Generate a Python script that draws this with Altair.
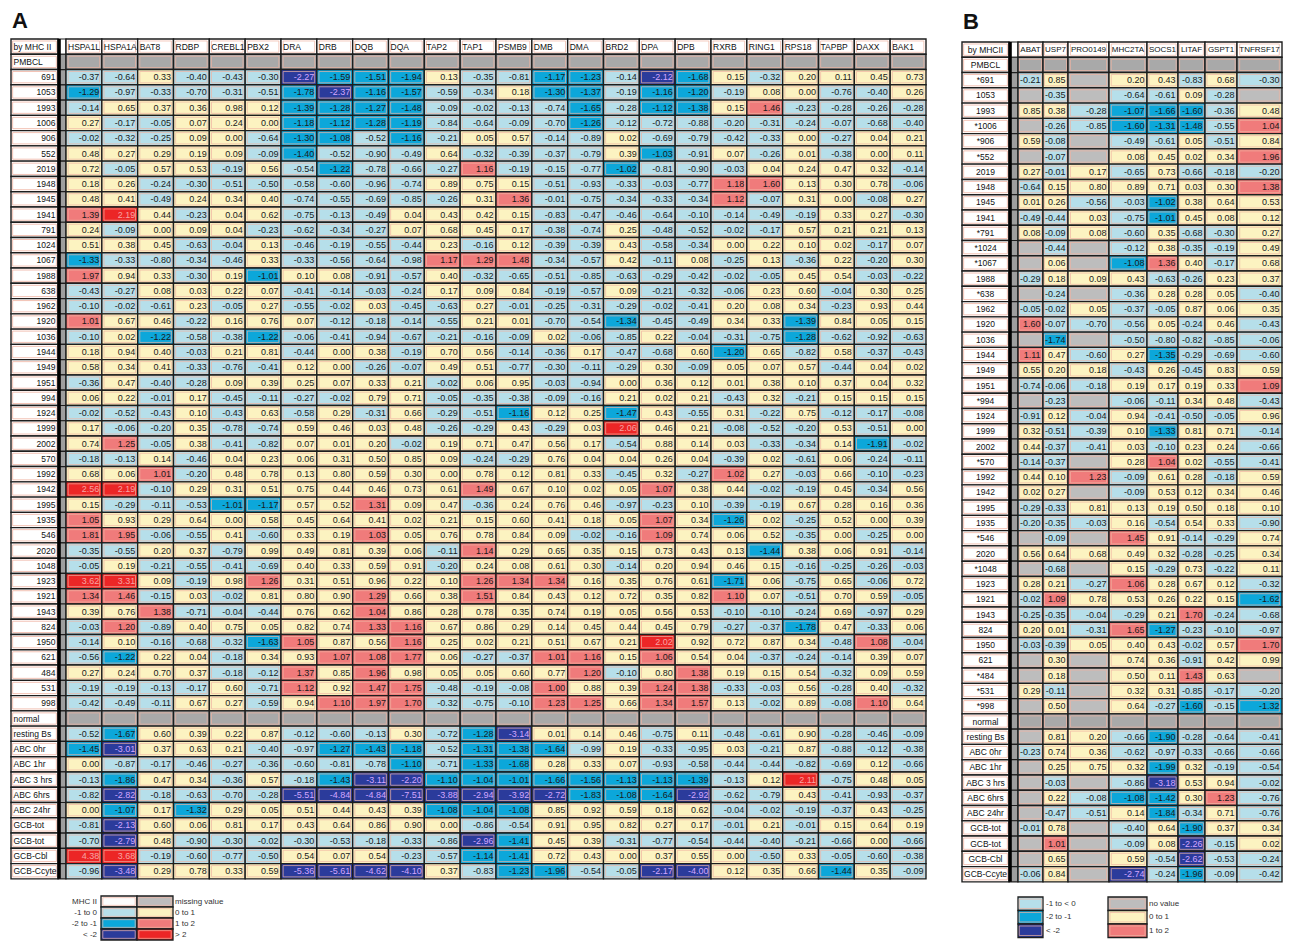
import altair as alt
import pandas as pd

FONT = "Liberation Sans, Arial, sans-serif"
N = None

# ---------------- Panel A ----------------
cols_a = ["HSPA1L", "HSPA1A", "BAT8", "RDBP", "CREBL1", "PBX2", "DRA", "DRB", "DQB", "DQA",
          "TAP2", "TAP1", "PSMB9", "DMB", "DMA", "BRD2", "DPA", "DPB", "RXRB", "RING1",
          "RPS18", "TAPBP", "DAXX", "BAK1"]

a691 = [-0.37, -0.64, 0.33, -0.40, -0.43, -0.30, -2.27, -1.59, -1.51, -1.94, 0.13, -0.35, -0.81, -1.17, -1.23, -0.14, -2.12, -1.68, 0.15, -0.32, 0.20, 0.11, 0.45, 0.73]
a1053 = [-1.29, -0.97, -0.33, -0.70, -0.31, -0.51, -1.78, -2.37, -1.16, -1.57, -0.59, -0.34, 0.18, -1.30, -1.37, -0.19, -1.16, -1.20, -0.19, 0.08, 0.00, -0.76, -0.40, 0.26]
a1993 = [-0.14, 0.65, 0.37, 0.36, 0.98, 0.12, -1.39, -1.28, -1.27, -1.48, -0.09, -0.02, -0.13, -0.74, -1.65, -0.28, -1.12, -1.38, 0.15, 1.46, -0.23, -0.28, -0.26, -0.28]
a1006 = [0.27, -0.17, -0.05, 0.07, 0.24, 0.00, -1.18, -1.12, -1.28, -1.19, -0.84, -0.64, -0.09, -0.70, -1.26, -0.12, -0.72, -0.88, -0.20, -0.31, -0.24, -0.07, -0.68, -0.40]
a906 = [-0.02, -0.32, -0.25, 0.09, 0.00, -0.64, -1.30, -1.08, -0.52, -1.16, -0.21, 0.05, 0.57, -0.14, -0.89, 0.02, -0.69, -0.79, -0.42, -0.33, 0.00, -0.27, 0.04, 0.21]
a552 = [0.48, 0.27, 0.29, 0.19, 0.09, -0.09, -1.40, -0.52, -0.90, -0.49, 0.64, -0.32, -0.39, -0.37, -0.79, 0.39, -1.03, -0.91, 0.07, -0.26, 0.01, -0.38, 0.00, 0.11]
a2019 = [0.72, -0.05, 0.57, 0.53, -0.19, 0.56, -0.54, -1.22, -0.78, -0.66, -0.27, 1.16, -0.19, -0.15, -0.77, -1.02, -0.81, -0.90, -0.03, 0.04, 0.24, 0.47, 0.32, -0.14]
a1948 = [0.18, 0.26, -0.24, -0.30, -0.51, -0.50, -0.58, -0.60, -0.96, -0.74, 0.89, 0.75, 0.15, -0.51, -0.93, -0.33, -0.03, -0.77, 1.18, 1.60, 0.13, 0.30, 0.78, -0.06]
a1945 = [0.48, 0.41, -0.49, 0.24, 0.34, 0.40, -0.74, -0.55, -0.69, -0.85, -0.26, 0.31, 1.36, -0.01, -0.75, -0.34, -0.33, -0.34, 1.12, -0.07, 0.31, 0.00, -0.08, 0.27]
a1941 = [1.39, 2.19, 0.44, -0.23, 0.04, 0.62, -0.75, -0.13, -0.49, 0.04, 0.43, 0.42, 0.15, -0.83, -0.47, -0.46, -0.64, -0.10, -0.14, -0.49, -0.19, 0.33, 0.27, -0.30]
a791 = [0.24, -0.09, 0.00, 0.09, 0.04, -0.23, -0.62, -0.34, -0.27, 0.07, 0.68, 0.45, 0.17, -0.38, -0.74, 0.25, -0.48, -0.52, -0.02, -0.17, 0.57, 0.21, 0.21, 0.13]
a1024 = [0.51, 0.38, 0.45, -0.63, -0.04, 0.13, -0.46, -0.19, -0.55, -0.44, 0.23, -0.16, 0.12, -0.39, -0.39, 0.43, -0.58, -0.34, 0.00, 0.22, 0.10, 0.02, -0.17, 0.07]
a1067 = [-1.33, -0.33, -0.80, -0.34, -0.46, 0.33, -0.33, -0.56, -0.64, -0.98, 1.17, 1.29, 1.48, -0.34, -0.57, 0.42, -0.11, 0.08, -0.25, 0.13, -0.36, 0.22, -0.20, 0.30]
a1988 = [1.97, 0.94, 0.33, -0.30, 0.19, -1.01, 0.10, 0.08, -0.91, -0.57, 0.40, -0.32, -0.65, -0.51, -0.85, -0.63, -0.29, -0.42, -0.02, -0.05, 0.45, 0.54, -0.03, -0.22]
a638 = [-0.43, -0.27, 0.08, 0.03, 0.22, 0.07, -0.41, -0.14, -0.03, -0.24, 0.17, 0.09, 0.84, -0.19, -0.57, 0.09, -0.21, -0.32, -0.06, 0.23, 0.60, -0.04, 0.30, 0.25]
a1962 = [-0.10, -0.02, -0.61, 0.23, -0.05, 0.27, -0.55, -0.02, 0.03, -0.45, -0.63, 0.27, -0.01, -0.25, -0.31, -0.29, -0.02, -0.41, 0.20, 0.08, 0.34, -0.23, 0.93, 0.44]
a1920 = [1.01, 0.67, 0.46, -0.22, 0.16, 0.76, 0.07, -0.12, -0.18, -0.14, -0.55, 0.21, 0.01, -0.70, -0.54, -1.34, -0.45, -0.49, 0.34, 0.33, -1.39, 0.84, 0.05, 0.15]
a1036 = [-0.10, 0.02, -1.22, -0.58, -0.38, -1.22, -0.06, -0.41, -0.94, -0.67, -0.21, -0.16, -0.09, 0.02, -0.06, -0.85, 0.22, -0.04, -0.31, -0.75, -1.28, -0.62, -0.92, -0.63]
a1944 = [0.18, 0.94, 0.40, -0.03, 0.21, 0.81, -0.44, 0.00, 0.38, -0.19, 0.70, 0.56, -0.14, -0.36, 0.17, -0.47, -0.68, 0.60, -1.20, 0.65, -0.82, 0.58, -0.37, -0.43]
a1949 = [0.58, 0.34, 0.41, -0.33, -0.76, -0.41, 0.12, 0.00, -0.26, -0.07, 0.49, 0.51, -0.77, -0.30, -0.11, -0.29, 0.30, -0.09, 0.05, 0.07, 0.57, -0.44, 0.04, 0.02]
a1951 = [-0.36, 0.47, -0.40, -0.28, 0.09, 0.39, 0.25, 0.07, 0.33, 0.21, -0.02, 0.06, 0.95, -0.03, -0.94, 0.00, 0.36, 0.12, 0.01, 0.38, 0.10, 0.37, 0.04, 0.32]
a994 = [0.06, 0.22, -0.01, 0.17, -0.45, -0.11, -0.27, -0.02, 0.79, 0.71, -0.05, -0.35, -0.38, -0.09, -0.16, 0.21, 0.02, 0.21, -0.43, 0.32, -0.21, 0.15, 0.15, 0.15]
a1924 = [-0.02, -0.52, -0.43, 0.10, -0.43, 0.63, -0.58, 0.29, -0.31, 0.66, -0.29, -0.51, -1.16, 0.12, 0.25, -1.47, 0.43, -0.55, 0.31, -0.22, 0.75, -0.12, -0.17, -0.08]
a1999 = [0.17, -0.06, -0.20, 0.35, -0.78, -0.74, 0.59, 0.46, 0.03, 0.48, -0.26, -0.29, 0.43, -0.29, 0.03, 2.06, 0.46, 0.21, -0.08, -0.52, -0.20, 0.53, -0.51, 0.00]
a2002 = [0.74, 1.25, -0.05, 0.38, -0.41, -0.82, 0.07, 0.01, 0.20, -0.02, 0.19, 0.71, 0.47, 0.56, 0.17, -0.54, 0.88, 0.14, 0.03, -0.33, -0.34, 0.14, -1.91, -0.02]
a570 = [-0.18, -0.13, 0.14, -0.46, 0.04, 0.23, 0.06, 0.31, 0.50, 0.85, 0.09, -0.24, -0.29, 0.76, 0.04, 0.04, 0.26, 0.04, -0.39, 0.02, -0.61, 0.06, -0.24, -0.11]
a1992 = [0.68, 0.06, 1.01, -0.20, 0.48, 0.78, 0.13, 0.80, 0.59, 0.30, 0.00, 0.78, 0.12, 0.81, 0.33, -0.45, 0.32, -0.27, 1.02, 0.27, -0.03, 0.66, -0.10, -0.23]
a1942 = [2.56, 2.19, -0.10, 0.29, 0.31, 0.51, 0.75, 0.44, 0.46, 0.73, 0.61, 1.49, 0.67, 0.10, 0.02, 0.05, 1.07, 0.38, 0.44, -0.02, -0.19, 0.45, -0.34, 0.56]
a1995 = [0.15, -0.29, -0.11, -0.53, -1.01, -1.17, 0.57, 0.52, 1.31, 0.09, 0.47, -0.36, 0.24, 0.76, 0.46, -0.97, -0.23, 0.10, -0.39, -0.19, 0.67, 0.28, 0.16, 0.36]
a1935 = [1.05, 0.93, 0.29, 0.64, 0.00, 0.58, 0.45, 0.64, 0.41, 0.02, 0.21, 0.15, 0.60, 0.41, 0.18, 0.05, 1.07, 0.34, -1.26, 0.02, -0.25, 0.52, 0.00, 0.39]
a546 = [1.81, 1.95, -0.06, -0.55, 0.41, -0.60, 0.33, 0.19, 1.03, 0.05, 0.76, 0.78, 0.84, 0.09, -0.02, -0.16, 1.09, 0.74, 0.06, 0.52, -0.35, 0.00, -0.25, 0.00]
a2020 = [-0.35, -0.55, 0.20, 0.37, -0.79, 0.99, 0.49, 0.81, 0.39, 0.06, -0.11, 1.14, 0.29, 0.65, 0.35, 0.15, 0.73, 0.43, 0.13, -1.44, 0.38, 0.06, 0.91, -0.14]
a1048 = [-0.05, 0.19, -0.21, -0.55, -0.41, -0.69, 0.40, 0.33, 0.59, 0.91, -0.20, 0.24, 0.08, 0.61, 0.30, -0.14, 0.20, 0.94, 0.46, 0.15, -0.16, -0.25, -0.26, -0.03]
a1923 = [3.62, 3.31, 0.09, -0.19, 0.98, 1.26, 0.31, 0.51, 0.96, 0.22, 0.10, 1.26, 1.34, 1.34, 0.16, 0.35, 0.76, 0.61, -1.71, 0.06, -0.75, 0.65, -0.06, 0.72]
a1921 = [1.34, 1.46, -0.15, 0.03, -0.02, 0.81, 0.80, 0.90, 1.29, 0.66, 0.38, 1.51, 0.84, 0.43, 0.12, 0.72, 0.35, 0.82, 1.10, 0.07, -0.51, 0.70, 0.59, -0.05]
a1943 = [0.39, 0.76, 1.38, -0.71, -0.04, -0.44, 0.76, 0.62, 1.04, 0.86, 0.28, 0.78, 0.35, 0.74, 0.19, 0.05, 0.56, 0.53, -0.10, -0.10, -0.24, 0.69, -0.97, 0.29]
a824 = [-0.03, 1.20, -0.89, 0.40, 0.75, 0.05, 0.82, 0.74, 1.33, 1.16, 0.67, 0.86, 0.29, 0.14, 0.45, 0.44, 0.45, 0.79, -0.27, -0.37, -1.78, 0.47, -0.33, 0.06]
a1950 = [-0.14, 0.10, -0.16, -0.68, -0.32, -1.63, 1.05, 0.87, 0.56, 1.16, 0.25, 0.02, 0.21, 0.51, 0.67, 0.21, 2.02, 0.92, 0.72, 0.87, 0.34, -0.48, 1.08, -0.04]
a621 = [-0.56, -1.22, 0.22, 0.04, -0.18, 0.34, 0.93, 1.07, 1.08, 1.77, 0.06, -0.27, -0.37, 1.01, 1.16, 0.15, 1.06, 0.54, 0.04, -0.37, -0.24, -0.14, 0.39, 0.07]
a484 = [0.27, 0.24, 0.70, 0.37, -0.18, -0.12, 1.37, 0.85, 1.96, 0.98, 0.05, 0.05, 0.60, 0.77, 1.20, -0.10, 0.80, 1.38, 0.19, 0.15, 0.54, -0.32, 0.09, 0.59]
a531 = [-0.19, -0.19, -0.13, -0.17, 0.60, -0.71, 1.12, 0.92, 1.47, 1.75, -0.48, -0.19, -0.08, 1.00, 0.88, 0.39, 1.24, 1.38, -0.33, -0.03, 0.56, -0.28, 0.40, -0.32]
a998 = [-0.42, -0.49, -0.11, 0.67, 0.27, -0.59, 0.94, 1.10, 1.97, 1.70, -0.32, -0.75, -0.10, 1.23, 1.25, 0.66, 1.34, 1.57, 0.13, -0.02, 0.89, -0.08, 1.10, 0.64]
a_rest = [-0.52, -1.67, 0.60, 0.39, 0.22, 0.87, -0.12, -0.60, -0.13, 0.30, -0.72, -1.28, -3.14, 0.01, 0.14, 0.46, -0.75, 0.11, -0.48, -0.61, 0.90, -0.28, -0.46, -0.09]
a_abc0 = [-1.45, -3.01, 0.37, 0.63, 0.21, -0.40, -0.97, -1.27, -1.43, -1.18, -0.52, -1.31, -1.38, -1.64, -0.99, 0.19, -0.33, -0.95, 0.03, -0.21, 0.87, -0.88, -0.12, -0.38]
a_abc1 = [0.00, -0.87, -0.17, -0.46, -0.27, -0.36, -0.60, -0.81, -0.78, -1.10, -0.71, -1.33, -1.68, 0.28, 0.33, 0.07, -0.93, -0.58, -0.44, -0.44, -0.82, -0.69, 0.12, -0.66]
a_abc3 = [-0.13, -1.86, 0.47, 0.34, -0.36, 0.57, -0.18, -1.43, -3.11, -2.20, -1.10, -1.04, -1.01, -1.66, -1.56, -1.13, -1.13, -1.39, -0.13, 0.12, 2.11, -0.75, 0.48, 0.05]
a_abc6 = [-0.82, -2.82, -0.18, -0.63, -0.70, -0.28, -5.51, -4.84, -4.84, -7.51, -3.88, -2.94, -3.92, -2.72, -1.83, -1.08, -1.64, -2.92, -0.62, -0.79, 0.43, -0.41, -0.93, -0.37]
a_abc24 = [0.00, -1.07, 0.17, -1.32, 0.29, 0.05, 0.51, 0.44, 0.43, 0.39, -1.08, -1.04, -1.08, 0.85, 0.92, 0.59, 0.18, 0.62, -0.04, -0.02, -0.19, -0.37, 0.43, -0.25]
a_gcb1 = [-0.81, -2.13, 0.60, 0.06, 0.81, 0.17, 0.43, 0.64, 0.86, 0.90, 0.00, -0.86, -0.54, 0.91, 0.95, 0.82, 0.27, 0.17, -0.01, 0.21, -0.01, 0.15, 0.64, 0.19]
a_gcb2 = [-0.70, -2.79, 0.48, -0.90, -0.30, -0.02, -0.30, -0.53, -0.18, -0.33, -0.86, -2.96, -1.41, 0.45, 0.39, -0.31, -0.77, -0.54, -0.44, -0.40, -0.21, -0.66, 0.00, -0.66]
a_cbl = [4.38, 3.68, -0.19, -0.60, -0.77, -0.50, 0.54, 0.07, 0.54, -0.23, -0.57, -1.14, -1.41, 0.72, 0.43, 0.00, 0.37, 0.55, 0.00, -0.50, 0.33, -0.05, -0.60, -0.38]
a_ccyte = [-0.96, -3.48, 0.29, 0.78, 0.33, 0.59, -5.36, -5.61, -4.62, -4.10, 0.37, -0.83, -1.23, -1.96, -0.54, -0.05, -2.17, -4.00, 0.12, 0.35, 0.66, -1.44, 0.35, -0.09]

rows_a = [
    ("PMBCL", None),
    ("691", a691), ("1053", a1053), ("1993", a1993), ("1006", a1006), ("906", a906),
    ("552", a552), ("2019", a2019), ("1948", a1948), ("1945", a1945), ("1941", a1941),
    ("791", a791), ("1024", a1024), ("1067", a1067), ("1988", a1988), ("638", a638),
    ("1962", a1962), ("1920", a1920), ("1036", a1036), ("1944", a1944), ("1949", a1949),
    ("1951", a1951), ("994", a994), ("1924", a1924), ("1999", a1999), ("2002", a2002),
    ("570", a570), ("1992", a1992), ("1942", a1942), ("1995", a1995), ("1935", a1935),
    ("546", a546), ("2020", a2020), ("1048", a1048), ("1923", a1923), ("1921", a1921),
    ("1943", a1943), ("824", a824), ("1950", a1950), ("621", a621), ("484", a484),
    ("531", a531), ("998", a998),
    ("normal", None),
    ("resting Bs", a_rest), ("ABC 0hr", a_abc0), ("ABC 1hr", a_abc1), ("ABC 3 hrs", a_abc3),
    ("ABC 6hrs", a_abc6), ("ABC 24hr", a_abc24), ("GCB-tot", a_gcb1), ("GCB-tot", a_gcb2),
    ("GCB-Cbl", a_cbl), ("GCB-Ccyte", a_ccyte),
]

# ---------------- Panel B ----------------
cols_b = ["ABAT", "USP7", "PRO0149", "MHC2TA", "SOCS1", "LITAF", "GSPT1", "TNFRSF17"]

b691 = [-0.21, 0.85, N, 0.20, 0.43, -0.83, 0.68, -0.30]
b1053 = [N, -0.35, N, -0.64, -0.61, 0.09, -0.28, N]
b1993 = [0.85, 0.38, -0.28, -1.07, -1.66, -1.60, -0.36, 0.48]
b1006 = [N, -0.26, -0.85, -1.60, -1.31, -1.48, -0.55, 1.04]
b906 = [0.59, -0.08, N, -0.49, -0.61, 0.05, -0.51, 0.84]
b552 = [N, -0.07, N, 0.08, 0.45, 0.02, 0.34, 1.96]
b2019 = [0.27, -0.01, 0.17, -0.65, 0.73, -0.66, -0.18, -0.20]
b1948 = [-0.64, 0.15, 0.80, 0.89, 0.71, 0.03, 0.30, 1.38]
b1945 = [0.01, 0.26, -0.56, -0.03, -1.02, 0.38, 0.64, 0.53]
b1941 = [-0.49, -0.44, 0.03, -0.75, -1.01, 0.45, 0.08, 0.12]
b791 = [0.08, -0.09, 0.08, -0.60, 0.35, -0.68, -0.30, 0.27]
b1024 = [N, -0.44, N, -0.12, 0.38, -0.35, -0.19, 0.49]
b1067 = [N, 0.06, N, -1.08, 1.36, 0.40, -0.17, 0.68]
b1988 = [-0.29, 0.18, 0.09, 0.43, -0.63, -0.26, 0.23, 0.37]
b638 = [N, -0.24, N, -0.36, 0.28, 0.28, 0.05, -0.40]
b1962 = [-0.05, -0.02, 0.05, -0.37, -0.05, 0.87, 0.06, 0.35]
b1920 = [1.60, -0.07, -0.70, -0.56, 0.05, -0.24, 0.46, -0.43]
b1036 = [N, -1.74, N, -0.50, -0.80, -0.82, -0.85, -0.06]
b1944 = [1.11, 0.47, -0.60, 0.27, -1.35, -0.29, -0.69, -0.60]
b1949 = [0.55, 0.20, 0.18, -0.43, 0.26, -0.45, 0.83, 0.59]
b1951 = [-0.74, -0.06, -0.18, 0.19, 0.17, 0.19, 0.33, 1.09]
b994 = [N, -0.23, N, -0.06, -0.11, 0.34, 0.48, -0.43]
b1924 = [-0.91, 0.12, -0.04, 0.94, -0.41, -0.50, -0.05, 0.96]
b1999 = [0.32, -0.51, -0.39, 0.10, -1.33, 0.81, 0.71, -0.14]
b2002 = [0.44, -0.37, -0.41, 0.03, -0.10, 0.23, 0.24, -0.66]
b570 = [-0.14, -0.37, N, 0.28, 1.04, 0.02, -0.55, -0.41]
b1992 = [0.44, 0.10, 1.23, -0.09, 0.61, 0.28, -0.18, 0.59]
b1942 = [0.02, 0.27, N, -0.09, 0.53, 0.12, 0.34, 0.46]
b1995 = [-0.29, -0.33, 0.81, 0.13, 0.19, 0.50, 0.18, 0.10]
b1935 = [-0.20, -0.35, -0.03, 0.16, -0.54, 0.54, 0.33, -0.90]
b546 = [N, -0.09, N, 1.45, 0.91, -0.14, -0.29, 0.74]
b2020 = [0.56, 0.64, 0.68, 0.49, 0.32, -0.28, -0.25, 0.34]
b1048 = [N, -0.68, N, 0.15, -0.29, 0.73, -0.22, 0.11]
b1923 = [0.28, 0.21, -0.27, 1.06, 0.28, 0.67, 0.12, -0.32]
b1921 = [-0.02, 1.09, 0.78, 0.53, 0.26, 0.22, 0.15, -1.62]
b1943 = [-0.25, -0.35, -0.04, -0.29, 0.21, 1.70, -0.24, -0.68]
b824 = [0.20, 0.01, -0.31, 1.65, -1.27, -0.23, -0.10, -0.97]
b1950 = [-0.03, -0.39, 0.05, 0.40, 0.43, -0.02, 0.57, 1.70]
b621 = [N, 0.30, N, 0.74, 0.36, -0.91, 0.42, 0.99]
b484 = [N, 0.18, N, 0.50, 0.11, 1.43, 0.63, N]
b531 = [0.29, -0.11, N, 0.32, 0.31, -0.85, -0.17, -0.20]
b998 = [N, 0.50, N, 0.64, -0.27, -1.60, -0.15, -1.32]
b_rest = [N, 0.81, 0.20, -0.66, -1.90, -0.28, -0.64, -0.41]
b_abc0 = [-0.23, 0.74, 0.36, -0.62, -0.97, -0.33, -0.66, -0.66]
b_abc1 = [N, 0.25, 0.75, 0.32, -1.99, 0.32, -0.19, -0.54]
b_abc3 = [N, -0.03, N, -0.86, -3.18, 0.53, 0.94, -0.02]
b_abc6 = [N, 0.22, -0.08, -1.08, -1.42, 0.30, 1.23, -0.76]
b_abc24 = [N, -0.47, -0.51, 0.14, -1.84, -0.34, 0.71, -0.76]
b_gcb1 = [-0.01, 0.78, N, -0.40, 0.64, -1.90, 0.37, 0.34]
b_gcb2 = [N, 1.01, N, -0.09, 0.08, -2.26, -0.15, 0.02]
b_cbl = [N, 0.65, N, 0.59, -0.54, -2.62, -0.53, -0.24]
b_ccyte = [-0.06, 0.84, N, -2.74, -0.24, -1.96, -0.09, -0.42]

rows_b = [
    ("PMBCL", None),
    ("*691", b691), ("1053", b1053), ("1993", b1993), ("*1006", b1006), ("*906", b906),
    ("*552", b552), ("2019", b2019), ("1948", b1948), ("1945", b1945), ("1941", b1941),
    ("*791", b791), ("*1024", b1024), ("*1067", b1067), ("1988", b1988), ("*638", b638),
    ("1962", b1962), ("1920", b1920), ("1036", b1036), ("1944", b1944), ("1949", b1949),
    ("1951", b1951), ("*994", b994), ("1924", b1924), ("1999", b1999), ("2002", b2002),
    ("*570", b570), ("1992", b1992), ("1942", b1942), ("1995", b1995), ("1935", b1935),
    ("*546", b546), ("2020", b2020), ("*1048", b1048), ("1923", b1923), ("1921", b1921),
    ("1943", b1943), ("824", b824), ("1950", b1950), ("621", b621), ("*484", b484),
    ("*531", b531), ("*998", b998),
    ("normal", None),
    ("resting Bs", b_rest), ("ABC 0hr", b_abc0), ("ABC 1hr", b_abc1), ("ABC 3 hrs", b_abc3),
    ("ABC 6hrs", b_abc6), ("ABC 24hr", b_abc24), ("GCB-tot", b_gcb1), ("GCB-tot", b_gcb2),
    ("GCB-Cbl", b_cbl), ("GCB-Ccyte", b_ccyte),
]

# legends
leg_a_left_labels = ["MHC II", "-1 to 0", "-2 to -1", "< -2"]
leg_a_left_cats = ["mhc", "m10", "m21", "lt2"]
leg_a_right_labels = ["missing value", "0 to 1", "1 to 2", "> 2"]
leg_a_right_cats = ["missing", "p01", "p12", "gt2"]
leg_b_left_labels = ["-1 to < 0", "-2 to -1", "< -2"]
leg_b_left_cats = ["m10", "m21", "lt2"]
leg_b_right_labels = ["no value", "0 to 1", "1 to 2"]
leg_b_right_cats = ["missing", "p01", "p12"]

panel_letters = ["A", "B"]

# ---------------- styling ----------------
CATS = ["lt2", "m21", "m10", "p01", "p12", "gt2", "missing", "group", "hdr", "mhc", "sep"]
FILLS = ["#2b3b9b", "#0ca7da", "#b6dfea", "#fcf3c1", "#f07b7b", "#ec2626",
         "#bdbdbd", "#a9a9a9", "#ffffff", "#fcfcfc", "#9e9e9e"]
TCOLS = ["#d2a6ff", "#1a1a1a", "#1a1a1a", "#1a1a1a", "#1a1a1a", "#f7a3a3",
         "#1a1a1a", "#1a1a1a", "#1a1a1a", "#1a1a1a", "#1a1a1a"]
ROW_H = 15.27
H = ROW_H * 55

fill_enc = alt.Fill("cat:N", scale=alt.Scale(domain=CATS, range=FILLS), legend=None)
tcol_enc = alt.Color("cat:N", scale=alt.Scale(domain=CATS, range=TCOLS), legend=None)
band0 = alt.Scale(paddingInner=0, paddingOuter=0)


def cat_of(v):
    if v is None:
        return "missing"
    if v < -2:
        return "lt2"
    if v < -1:
        return "m21"
    if v < 0:
        return "m10"
    if v < 1:
        return "p01"
    if v < 2:
        return "p12"
    return "gt2"


def cells(cols, rows):
    recs = [dict(r=0, col=c, cat="hdr", lab=c) for c in cols]
    for i, (name, vals) in enumerate(rows, start=1):
        if vals is not None:
            assert len(vals) == len(cols), name
        for j, c in enumerate(cols):
            if vals is None:
                recs.append(dict(r=i, col=c, cat="group", lab=""))
            else:
                v = vals[j]
                recs.append(dict(r=i, col=c, cat=cat_of(v), lab="" if v is None else f"{v:.2f}"))
    return pd.DataFrame(recs)


def heat(df, cols, width, hdr_align):
    bw = width / len(cols)
    base = alt.Chart(df).encode(
        x=alt.X("col:N", sort=cols, axis=None, scale=band0),
        y=alt.Y("r:O", axis=None, scale=band0),
    )
    rect = base.mark_rect(stroke="#1e1e1e", strokeWidth=1.4).encode(fill=fill_enc)
    inner = base.mark_rect(fillOpacity=0, stroke="#efb3a2", strokeWidth=0.7,
                           width=alt.RelativeBandSize(0.88), height=alt.RelativeBandSize(0.74))
    vals = base.mark_text(align="right", dx=bw / 2 - 2.5, fontSize=9, font=FONT).encode(
        text="lab:N", color=tcol_enc).transform_filter("datum.cat != 'hdr'")
    if hdr_align == "left":
        hdr = base.mark_text(align="left", dx=-bw / 2 + 2, fontSize=8.5, font=FONT, color="#111")
    else:
        hdr = base.mark_text(align="center", fontSize=8, font=FONT, color="#111")
    hdr = hdr.encode(text="lab:N").transform_filter("datum.cat == 'hdr'")
    return alt.layer(rect, inner, vals, hdr).properties(width=width, height=H)


def labels_chart(head, rows, width, mode):
    names = [head] + [n for n, _ in rows]
    df = pd.DataFrame({"r": list(range(len(names))), "lab": names, "c": "x",
                       "isnum": [n.lstrip("*").isdigit() for n in names]})
    base = alt.Chart(df).encode(x=alt.X("c:N", axis=None, scale=band0),
                                y=alt.Y("r:O", axis=None, scale=band0))
    rect = base.mark_rect(fill="#ffffff", stroke="#1e1e1e", strokeWidth=1.4)
    inner = base.mark_rect(fillOpacity=0, stroke="#efb3a2", strokeWidth=0.8,
                           width=alt.RelativeBandSize(0.93), height=alt.RelativeBandSize(0.74))
    layers = [rect, inner]
    if mode == "A":
        layers.append(base.mark_text(align="left", dx=-width / 2 + 2.5, fontSize=8.5, font=FONT,
                                     color="#111").encode(text="lab:N").transform_filter("!datum.isnum"))
        layers.append(base.mark_text(align="right", dx=width / 2 - 2.5, fontSize=8.5, font=FONT,
                                     color="#111").encode(text="lab:N").transform_filter("datum.isnum"))
    else:
        layers.append(base.mark_text(align="center", fontSize=8.5, font=FONT,
                                     color="#111").encode(text="lab:N"))
    return alt.layer(*layers).properties(width=width, height=H)


def sep_chart(width):
    df = pd.DataFrame({"r": list(range(55)), "c": "s",
                       "cat": ["hdr"] + ["sep"] * 54})
    base = alt.Chart(df).encode(x=alt.X("c:N", axis=None, scale=band0),
                                y=alt.Y("r:O", axis=None, scale=band0))
    rect = base.mark_rect(stroke="#1e1e1e", strokeWidth=1.2).encode(fill=fill_enc)
    rule = alt.Chart(pd.DataFrame({"k": [0]})).mark_rule(color="#000000", strokeWidth=3.2).encode(
        x=alt.value(1.2), y=alt.value(0), y2=alt.value(H))
    return alt.layer(rect, rule).properties(width=width, height=H)


def legend_boxes(labels, cats, width, row_h, text_right):
    df = pd.DataFrame({"i": list(range(len(labels))), "cat": cats, "lab": labels, "c": "b"})
    base = alt.Chart(df).encode(x=alt.X("c:N", axis=None, scale=band0),
                                y=alt.Y("i:O", axis=None, scale=band0))
    rect = base.mark_rect(stroke="#1e1e1e", strokeWidth=1.3).encode(fill=fill_enc)
    inner = base.mark_rect(fillOpacity=0, stroke="#efb3a2", strokeWidth=0.7,
                           width=alt.RelativeBandSize(0.9), height=alt.RelativeBandSize(0.7))
    layers = [rect, inner]
    if text_right:
        layers.append(base.mark_text(align="left", dx=width / 2 + 2, fontSize=8, font=FONT,
                                     color="#333").encode(text="lab:N"))
    return alt.layer(*layers).properties(width=width, height=row_h * len(labels))


def legend_text(labels, width, row_h, align, xpos):
    df = pd.DataFrame({"i": list(range(len(labels))), "lab": labels})
    return alt.Chart(df).mark_text(align=align, fontSize=8, font=FONT, color="#333").encode(
        x=alt.value(xpos), y=alt.Y("i:O", axis=None, scale=band0), text="lab:N"
    ).properties(width=width, height=row_h * len(labels))


def spacer(width, height):
    return alt.Chart(pd.DataFrame({"k": [0]})).mark_point(opacity=0, size=1).encode(
        x=alt.value(1), y=alt.value(1)).properties(width=width, height=height)


def letter(t, top_y):
    return alt.Chart(pd.DataFrame({"t": [t]})).mark_text(
        align="left", baseline="top", fontSize=22, fontWeight="bold",
        font="Liberation Sans, Arial", color="#111"
    ).encode(text="t:N", x=alt.value(1), y=alt.value(top_y)).properties(width=40, height=26)


FL = "flush"

# ---------------- assemble ----------------
df_a = cells(cols_a, rows_a)
heat_a = heat(df_a, cols_a, 860, "left")
table_a = alt.hconcat(labels_chart("by MHC II", rows_a, 47, "A"), sep_chart(8), heat_a,
                      spacing=0, bounds=FL)

leg_a = alt.hconcat(
    legend_text(leg_a_left_labels, 90, 11, "right", 86),
    legend_boxes(leg_a_left_labels, leg_a_left_cats, 36, 11, False),
    legend_boxes(leg_a_right_labels, leg_a_right_cats, 36, 11, True),
    spacing=0, bounds=FL,
)

panel_a = alt.vconcat(
    letter(panel_letters[0], 3),
    alt.vconcat(table_a, leg_a, spacing=14),
    spacing=3,
)

df_b = cells(cols_b, rows_b)
b_widths = [25, 25, 41, 38, 31, 27, 32, 45]
b_cols = [heat(df_b[df_b["col"] == c], [c], w, "center") for c, w in zip(cols_b, b_widths)]
table_b = alt.hconcat(labels_chart("by MHCII", rows_b, 47, "B"), sep_chart(9), *b_cols,
                      spacing=0, bounds=FL)

leg_b = alt.hconcat(
    spacer(56, 40),
    legend_boxes(leg_b_left_labels, leg_b_left_cats, 25, 13.5, False),
    legend_text(leg_b_left_labels, 65, 13.5, "left", 3),
    legend_boxes(leg_b_right_labels, leg_b_right_cats, 39, 13.5, True),
    spacing=0, bounds=FL,
)

panel_b = alt.vconcat(
    letter(panel_letters[1], 4),
    alt.vconcat(table_b, leg_b, spacing=12),
    spacing=6,
)

chart = alt.hconcat(panel_a, panel_b, spacing=34).properties(
    padding={"left": 2, "top": 0, "right": 0, "bottom": 0}
).configure(background="#ffffff").configure_view(strokeWidth=0, stroke="transparent")

chart.save("out.html", embed_options={"renderer": "svg", "actions": False})
